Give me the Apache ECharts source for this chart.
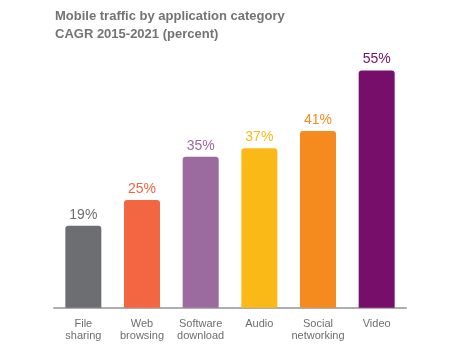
<!DOCTYPE html>
<html><head><meta charset="utf-8">
<script src="https://cdn.jsdelivr.net/npm/echarts@6/dist/echarts.min.js"></script>
<style>html,body{margin:0;padding:0;background:#fff}#c{width:450px;height:345px}</style>
</head><body><div id="c"></div>
<script>
var categories = ['File\nsharing', 'Web\nbrowsing', 'Software\ndownload', 'Audio', 'Social\nnetworking', 'Video'];
var values = [19, 25, 35, 37, 41, 55];
var colors = ['#6d6e71', '#f26641', '#9b6a9e', '#fbb918', '#f58b1f', '#770e6a'];
var titleLines = ['Mobile traffic by application category', 'CAGR 2015-2021 (percent)'];

var chart = echarts.init(document.getElementById('c'));
chart.setOption({
  animation: false,
  title: {
    text: titleLines.join('\n'),
    left: 50, top: 2,
    textStyle: { fontFamily: 'Liberation Sans', fontSize: 13, fontWeight: 'bold', color: '#727375', lineHeight: 18 }
  },
  grid: { left: 54, width: 352, top: 49, bottom: 37.3 },
  xAxis: {
    type: 'category', data: categories,
    axisLine: { lineStyle: { color: '#aeaeae', width: 2 } },
    axisTick: { show: false },
    axisLabel: { fontFamily: 'Liberation Sans', fontSize: 11, color: '#6d6e71', lineHeight: 12, margin: 10, interval: 0 }
  },
  yAxis: { type: 'value', min: 0, max: 60, show: false, splitLine: { show: false } },
  series: [{
    type: 'bar',
    barWidth: 36,
    data: values.map(function (v, i) {
      return { value: v, itemStyle: { color: colors[i] }, label: { color: colors[i] } };
    }),
    itemStyle: { borderRadius: [3, 3, 0, 0] },
    label: { show: true, position: 'top', distance: 4, formatter: '{c}%', fontFamily: 'Liberation Sans', fontSize: 14 }
  }]
});
</script></body></html>
